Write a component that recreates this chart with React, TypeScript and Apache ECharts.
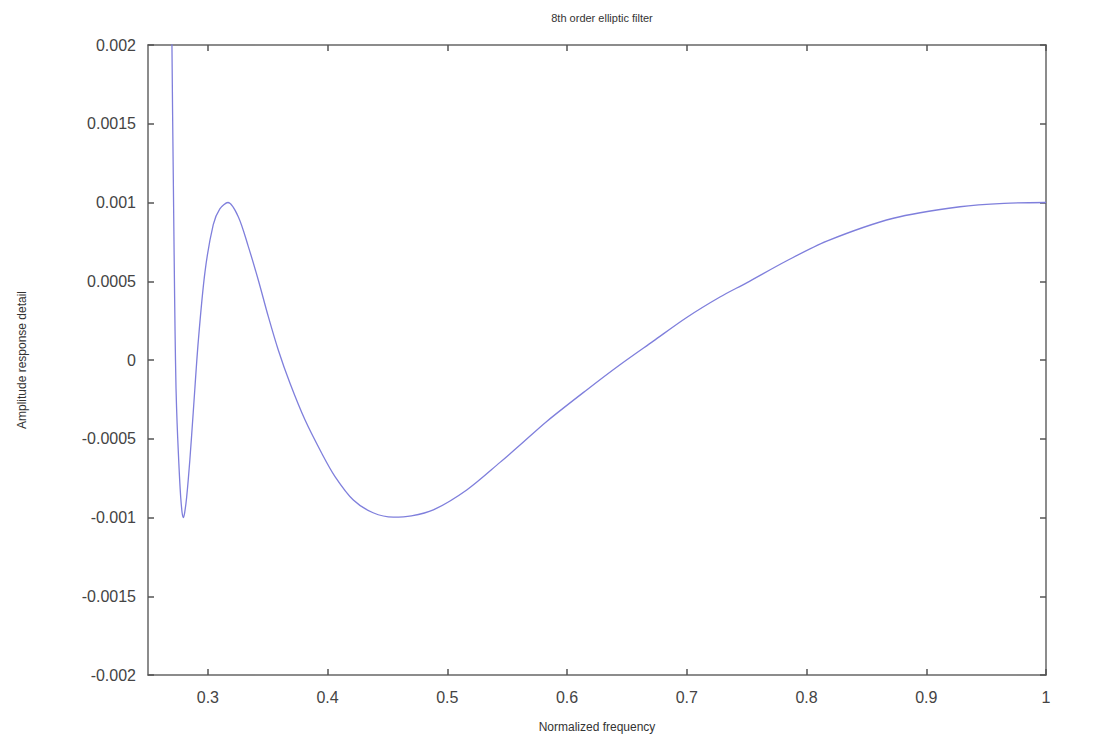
import React, { useEffect, useRef } from "react";
import * as echarts from "echarts";

const freq = [
  0.2685, 0.27, 0.2711, 0.2719, 0.2726, 0.2734, 0.2743, 0.2753, 0.2763, 0.2773,
  0.2785, 0.2795, 0.2806, 0.2823, 0.285, 0.2878, 0.292, 0.2976, 0.3045, 0.31,
  0.3168, 0.3254, 0.3338, 0.3421, 0.3505, 0.3588, 0.3686, 0.3811, 0.3951, 0.4062,
  0.4215, 0.438, 0.4549, 0.47, 0.4883, 0.5162, 0.544, 0.5607, 0.583, 0.6164,
  0.6442, 0.672, 0.6999, 0.7277, 0.75, 0.7835, 0.8169, 0.8725, 0.9282, 0.965, 1.0,
];
const amplitude = [
  0.004, 0.002, 0.00118, 0.00062, 0.00018, -0.00018, -0.0004, -0.00058, -0.00074, -0.00087,
  -0.00097, -0.001, -0.00097, -0.00087, -0.00063, -0.00033, 0.00012, 0.00056, 0.00086, 0.00096,
  0.001, 0.00091, 0.00072, 0.000508, 0.000275, 0.0000635, -0.000148, -0.00038, -0.000592, -0.00074,
  -0.000889, -0.00097, -0.000998, -0.00099, -0.000952, -0.000825, -0.00065, -0.00054, -0.00039, -0.00019,
  -0.00003, 0.00012, 0.00027, 0.0004, 0.00049, 0.00063, 0.000755, 0.0009, 0.000973, 0.000995, 0.001,
];
const xTicks = [0.3, 0.4, 0.5, 0.6, 0.7, 0.8, 0.9, 1.0];

const FONT = "Liberation Sans";
const AXIS_COLOR = "#666";

export default function App() {
  const ref = useRef<HTMLDivElement>(null);
  useEffect(() => {
    if (!ref.current) return;
    const chart = echarts.init(ref.current, undefined, { renderer: "svg" });
    const data = freq.map((f, i) => [f, amplitude[i]]);
    const axisLine = { show: true, onZero: false, lineStyle: { color: AXIS_COLOR, width: 1.5 } };
    const tick = { show: true, inside: true, length: 6, lineStyle: { color: "#555", width: 1.5 } };
    chart.setOption({
      animation: false,
      backgroundColor: "#fff",
      title: {
        text: "8th order elliptic filter",
        left: 597,
        top: 7,
        textAlign: "center",
        textStyle: { fontFamily: FONT, fontSize: 11, fontWeight: "normal", color: "#333" },
      },
      grid: { left: 148, right: 52, top: 45, bottom: 75 },
      xAxis: [
        {
          type: "value",
          min: 0.25,
          max: 1,
          position: "bottom",
          axisLine,
          axisTick: { ...tick, customValues: xTicks },
          axisLabel: {
            customValues: xTicks,
            margin: 14,
            fontFamily: FONT,
            fontSize: 16,
            color: "#444",
          },
          splitLine: { show: false },
          name: "Normalized frequency",
          nameLocation: "middle",
          nameGap: 46,
          nameTextStyle: { fontFamily: FONT, fontSize: 12, color: "#333" },
        },
        {
          type: "value",
          min: 0.25,
          max: 1,
          position: "top",
          axisLine,
          axisTick: { ...tick, customValues: xTicks },
          axisLabel: { show: false },
          splitLine: { show: false },
        },
      ],
      yAxis: [
        {
          type: "value",
          min: -0.002,
          max: 0.002,
          interval: 0.0005,
          position: "left",
          axisLine,
          axisTick: tick,
          axisLabel: { margin: 12, fontFamily: FONT, fontSize: 16, color: "#444" },
          splitLine: { show: false },
          name: "Amplitude response detail",
          nameLocation: "middle",
          nameGap: 120,
          nameTextStyle: { fontFamily: FONT, fontSize: 12, color: "#333" },
        },
        {
          type: "value",
          min: -0.002,
          max: 0.002,
          interval: 0.0005,
          position: "right",
          axisLine,
          axisTick: tick,
          axisLabel: { show: false },
          splitLine: { show: false },
        },
      ],
      series: [
        {
          type: "line",
          data,
          xAxisIndex: 0,
          yAxisIndex: 0,
          showSymbol: false,
          smooth: 0.3,
          clip: true,
          lineStyle: { color: "#7f7fdc", width: 1.3 },
        },
      ],
    });
    return () => chart.dispose();
  }, []);
  return (
    <div
      ref={ref}
      style={{ position: "fixed", left: 0, top: 0, width: 1098, height: 750, background: "#fff" }}
    />
  );
}
